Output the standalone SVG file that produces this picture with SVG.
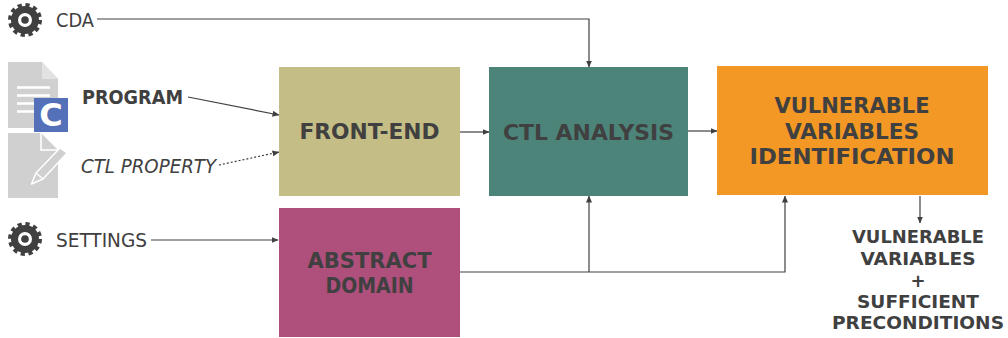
<svg xmlns="http://www.w3.org/2000/svg" width="1008" height="338" viewBox="0 0 1008 338">
<style>
text{font-family:"DejaVu Sans","Liberation Sans",sans-serif;fill:#404040}
.t{font-size:19.5px}
.b{font-size:22px;font-weight:bold;text-anchor:middle}
.o{font-size:18px;font-weight:bold;text-anchor:middle}
.c{fill:none;stroke:#404040;stroke-width:1.2}
</style>
<defs>
<marker id="a" markerWidth="7" markerHeight="6" refX="6.5" refY="3" orient="auto" markerUnits="userSpaceOnUse"><path d="M0 0L7 3L0 6z" fill="#404040"/></marker>
<g id="gear"><circle r="14" fill="#404040"/><circle r="15" fill="none" stroke="#404040" stroke-width="4" stroke-dasharray="4.2 3.65"/><circle r="7" fill="#fff"/><circle r="3.8" fill="#404040"/></g>
</defs>
<g id="connectors" class="c">
<path class="c" d="M97 19H589V67" marker-end="url(#a)"/>
<path class="c" d="M188 97L279 115" marker-end="url(#a)"/>
<path class="c" d="M219 165L279 152" stroke-dasharray="2 2" marker-end="url(#a)"/>
<path class="c" d="M151 240H278" marker-end="url(#a)"/>
<path class="c" d="M460 132H489" marker-end="url(#a)"/>
<path class="c" d="M688 131H717" marker-end="url(#a)"/>
<path class="c" d="M460 272H785V196" marker-end="url(#a)"/>
<path class="c" d="M589 272V196" marker-end="url(#a)"/>
<path class="c" d="M920 196V223" marker-end="url(#a)"/>
</g>
<g id="cda"><use href="#gear" x="25" y="20"/><text class="t" x="56" y="27" textLength="38" lengthAdjust="spacingAndGlyphs">CDA</text></g>
<g id="program">
<path d="M8 62H42L58 79V128H8z" fill="#d0d0d0"/>
<path d="M42 62V79H58z" fill="#e2e2e2"/>
<path d="M17 87.500H50M17 95.500H50M17 103.500H50M17 111.500H34" stroke="#fff" stroke-width="2.500"/>
<rect x="34" y="98" width="34" height="34" fill="#5470b8"/>
<text x="51" y="126" font-size="32" font-weight="bold" style="fill:#fff" text-anchor="middle">C</text>
<text x="82" y="104" font-size="19" font-weight="bold" textLength="101" lengthAdjust="spacingAndGlyphs">PROGRAM</text>
</g>
<g id="ctl-property">
<path d="M8 133H41L58 150V198H8z" fill="#d0d0d0"/>
<path d="M41 133V150H58" fill="none" stroke="#fff" stroke-width="1.500"/>
<path d="M31.500 184L36 173L60 148L67 153L43 179z" fill="#d0d0d0" stroke="#fff" stroke-width="1.500" stroke-linejoin="round"/>
<path d="M36 173L43 179" stroke="#fff" stroke-width="1.500"/>
<text x="81" y="173" font-size="19.500" font-style="italic" textLength="135" lengthAdjust="spacingAndGlyphs">CTL PROPERTY</text>
</g>
<g id="settings"><use href="#gear" x="25" y="239"/><text class="t" x="56" y="247" textLength="91" lengthAdjust="spacingAndGlyphs">SETTINGS</text></g>
<g id="front-end"><rect x="279" y="67" width="181" height="129" fill="#c4bd85"/><text class="b" x="369.500" y="139" textLength="140" lengthAdjust="spacingAndGlyphs">FRONT-END</text></g>
<g id="ctl-analysis"><rect x="489" y="67" width="199" height="129" fill="#4c8479"/><text class="b" x="588.500" y="140" textLength="171" lengthAdjust="spacingAndGlyphs">CTL ANALYSIS</text></g>
<g id="vulnerable-id"><rect x="717" y="66" width="271" height="129" fill="#f39824"/>
<text class="b" x="852" y="113" textLength="155" lengthAdjust="spacingAndGlyphs">VULNERABLE</text>
<text class="b" x="852" y="139" textLength="134" lengthAdjust="spacingAndGlyphs">VARIABLES</text>
<text class="b" x="852" y="164" textLength="205" lengthAdjust="spacingAndGlyphs">IDENTIFICATION</text></g>
<g id="abstract-domain"><rect x="279" y="208" width="181" height="129" fill="#ae4f7c"/>
<text class="b" x="369.500" y="268" textLength="124" lengthAdjust="spacingAndGlyphs">ABSTRACT</text>
<text class="b" x="369.500" y="293" textLength="88" lengthAdjust="spacingAndGlyphs">DOMAIN</text></g>
<g id="output">
<text class="o" x="918" y="243" textLength="132" lengthAdjust="spacingAndGlyphs">VULNERABLE</text>
<text class="o" x="918" y="265" textLength="115" lengthAdjust="spacingAndGlyphs">VARIABLES</text>
<text class="o" x="918" y="287">+</text>
<text class="o" x="918" y="308" textLength="122" lengthAdjust="spacingAndGlyphs">SUFFICIENT</text>
<text class="o" x="918" y="329" textLength="172" lengthAdjust="spacingAndGlyphs">PRECONDITIONS</text>
</g>
</svg>
